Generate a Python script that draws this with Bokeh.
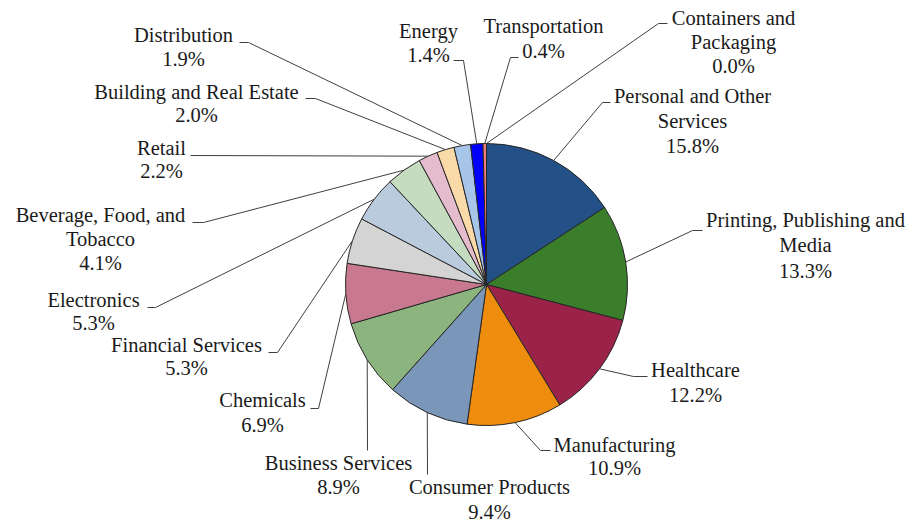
import math
from bokeh.plotting import figure
from bokeh.models import Range1d, ColumnDataSource
from bokeh.embed import file_html
from bokeh.resources import INLINE
from bokeh.core.properties import value

# ---------------- data ----------------
categories = [
    "Personal and Other Services", "Printing, Publishing and Media", "Healthcare",
    "Manufacturing", "Consumer Products", "Business Services", "Chemicals",
    "Financial Services", "Electronics", "Beverage, Food, and Tobacco", "Retail",
    "Building and Real Estate", "Distribution", "Energy", "Transportation",
    "Containers and Packaging",
]
shares = [15.8, 13.3, 12.2, 10.9, 9.4, 8.9, 6.9, 5.3, 5.3, 4.1, 2.2, 2.0, 1.9, 1.4, 0.4, 0.0]
label_text = [
    ["Personal and Other", "Services"],
    ["Printing, Publishing and", "Media"],
    ["Healthcare"],
    ["Manufacturing"],
    ["Consumer Products"],
    ["Business Services"],
    ["Chemicals"],
    ["Financial Services"],
    ["Electronics"],
    ["Beverage, Food, and", "Tobacco"],
    ["Retail"],
    ["Building and Real Estate"],
    ["Distribution"],
    ["Energy"],
    ["Transportation"],
    ["Containers and", "Packaging"],
]

# ---------------- styles / layout (page pixels) ----------------
colors = [
    "#245088", "#3A7D2A", "#9B2248", "#EE8C0E", "#7A97BA", "#8BB47F", "#C8788F",
    "#D4D4D4", "#BACBDD", "#C6DCC1", "#E5BCCD", "#FADAA9", "#A7C5E8", "#0000FF",
    "#F07C7C", "#F07C7C",
]
W, H = 913, 522
CX, CY, R = 486, 284, 141
FONT = "Liberation Serif"
FS = "20.5px"
TEXT_DY = 8  # renderer places alphabetic baseline slightly low; compensate
# label: (center x, first baseline y, line gap, leader path after the pie point)
label_layout = [
    (692, 103, 25, [(602, 102), (610, 102)]),
    (805, 227, 25.5, [(692, 230), (702, 230)]),
    (695, 377, 25, [(633, 376), (647, 376)]),
    (614, 452, 23, [(540, 450), (550, 450)]),
    (489, 494, 25, [(427, 474)]),
    (338, 470, 24, [(367, 450)]),
    (262, 407, 25, [(318, 408), (310, 408)]),
    (186, 352, 23, [(277, 352), (268, 352)]),
    (93, 307, 23, [(155, 307), (147, 307)]),
    (100, 222, 24, [(203, 222), (192, 222)]),
    (161, 155, 23, [(190, 155)]),
    (196, 99, 23, [(315, 98), (305, 98)]),
    (183, 42, 24, [(248, 42), (239, 42)]),
    (428, 38, 24, [(463, 60), (453, 60)]),
    (543, 33, 25, [(510, 57), (518, 57)]),
    (733, 25, 24, [(658, 23), (667, 23)]),
]

p = figure(width=W, height=H, x_range=Range1d(0, W), y_range=Range1d(-H, 0),
           output_backend="svg", toolbar_location=None, x_axis_type=None, y_axis_type=None,
           min_border=0)
p.outline_line_color = None
p.background_fill_color = "white"

total = sum(shares)
starts, ends, mids, wcolors = [], [], [], []
cum = 0.0
for s, c in zip(shares, colors):
    a0 = math.pi / 2 - 2 * math.pi * cum / total
    cum += s
    a1 = math.pi / 2 - 2 * math.pi * cum / total
    mids.append((a0 + a1) / 2)
    if s > 0:
        starts.append(a0)
        ends.append(a1)
        wcolors.append(c)

src = ColumnDataSource(dict(start=starts, end=ends, color=wcolors))
p.wedge(x=CX, y=-CY, radius=R, start_angle="start", end_angle="end", direction="clock",
        fill_color="color", line_color="#262626", line_width=1, source=src)

xs, ys = [], []
tx, ty, tt = [], [], []
for i, cat in enumerate(categories):
    m = mids[i]
    px = CX + R * math.cos(m)
    py = -CY + R * math.sin(m)
    lx, ly, gap, path = label_layout[i]
    xs.append([px] + [q[0] for q in path])
    ys.append([py] + [-q[1] for q in path])
    lines = label_text[i] + [f"{shares[i]:.1f}%"]
    for k, t in enumerate(lines):
        tx.append(lx)
        ty.append(-(ly + k * gap - TEXT_DY))
        tt.append(t)

p.multi_line(xs=xs, ys=ys, line_color="#404040", line_width=1)
p.text(x=tx, y=ty, text=tt, text_align="center", text_baseline="alphabetic",
       text_font=value(FONT), text_font_size=FS, text_color="#1a1a1a")

open("out.html", "w").write(file_html(p, INLINE))
